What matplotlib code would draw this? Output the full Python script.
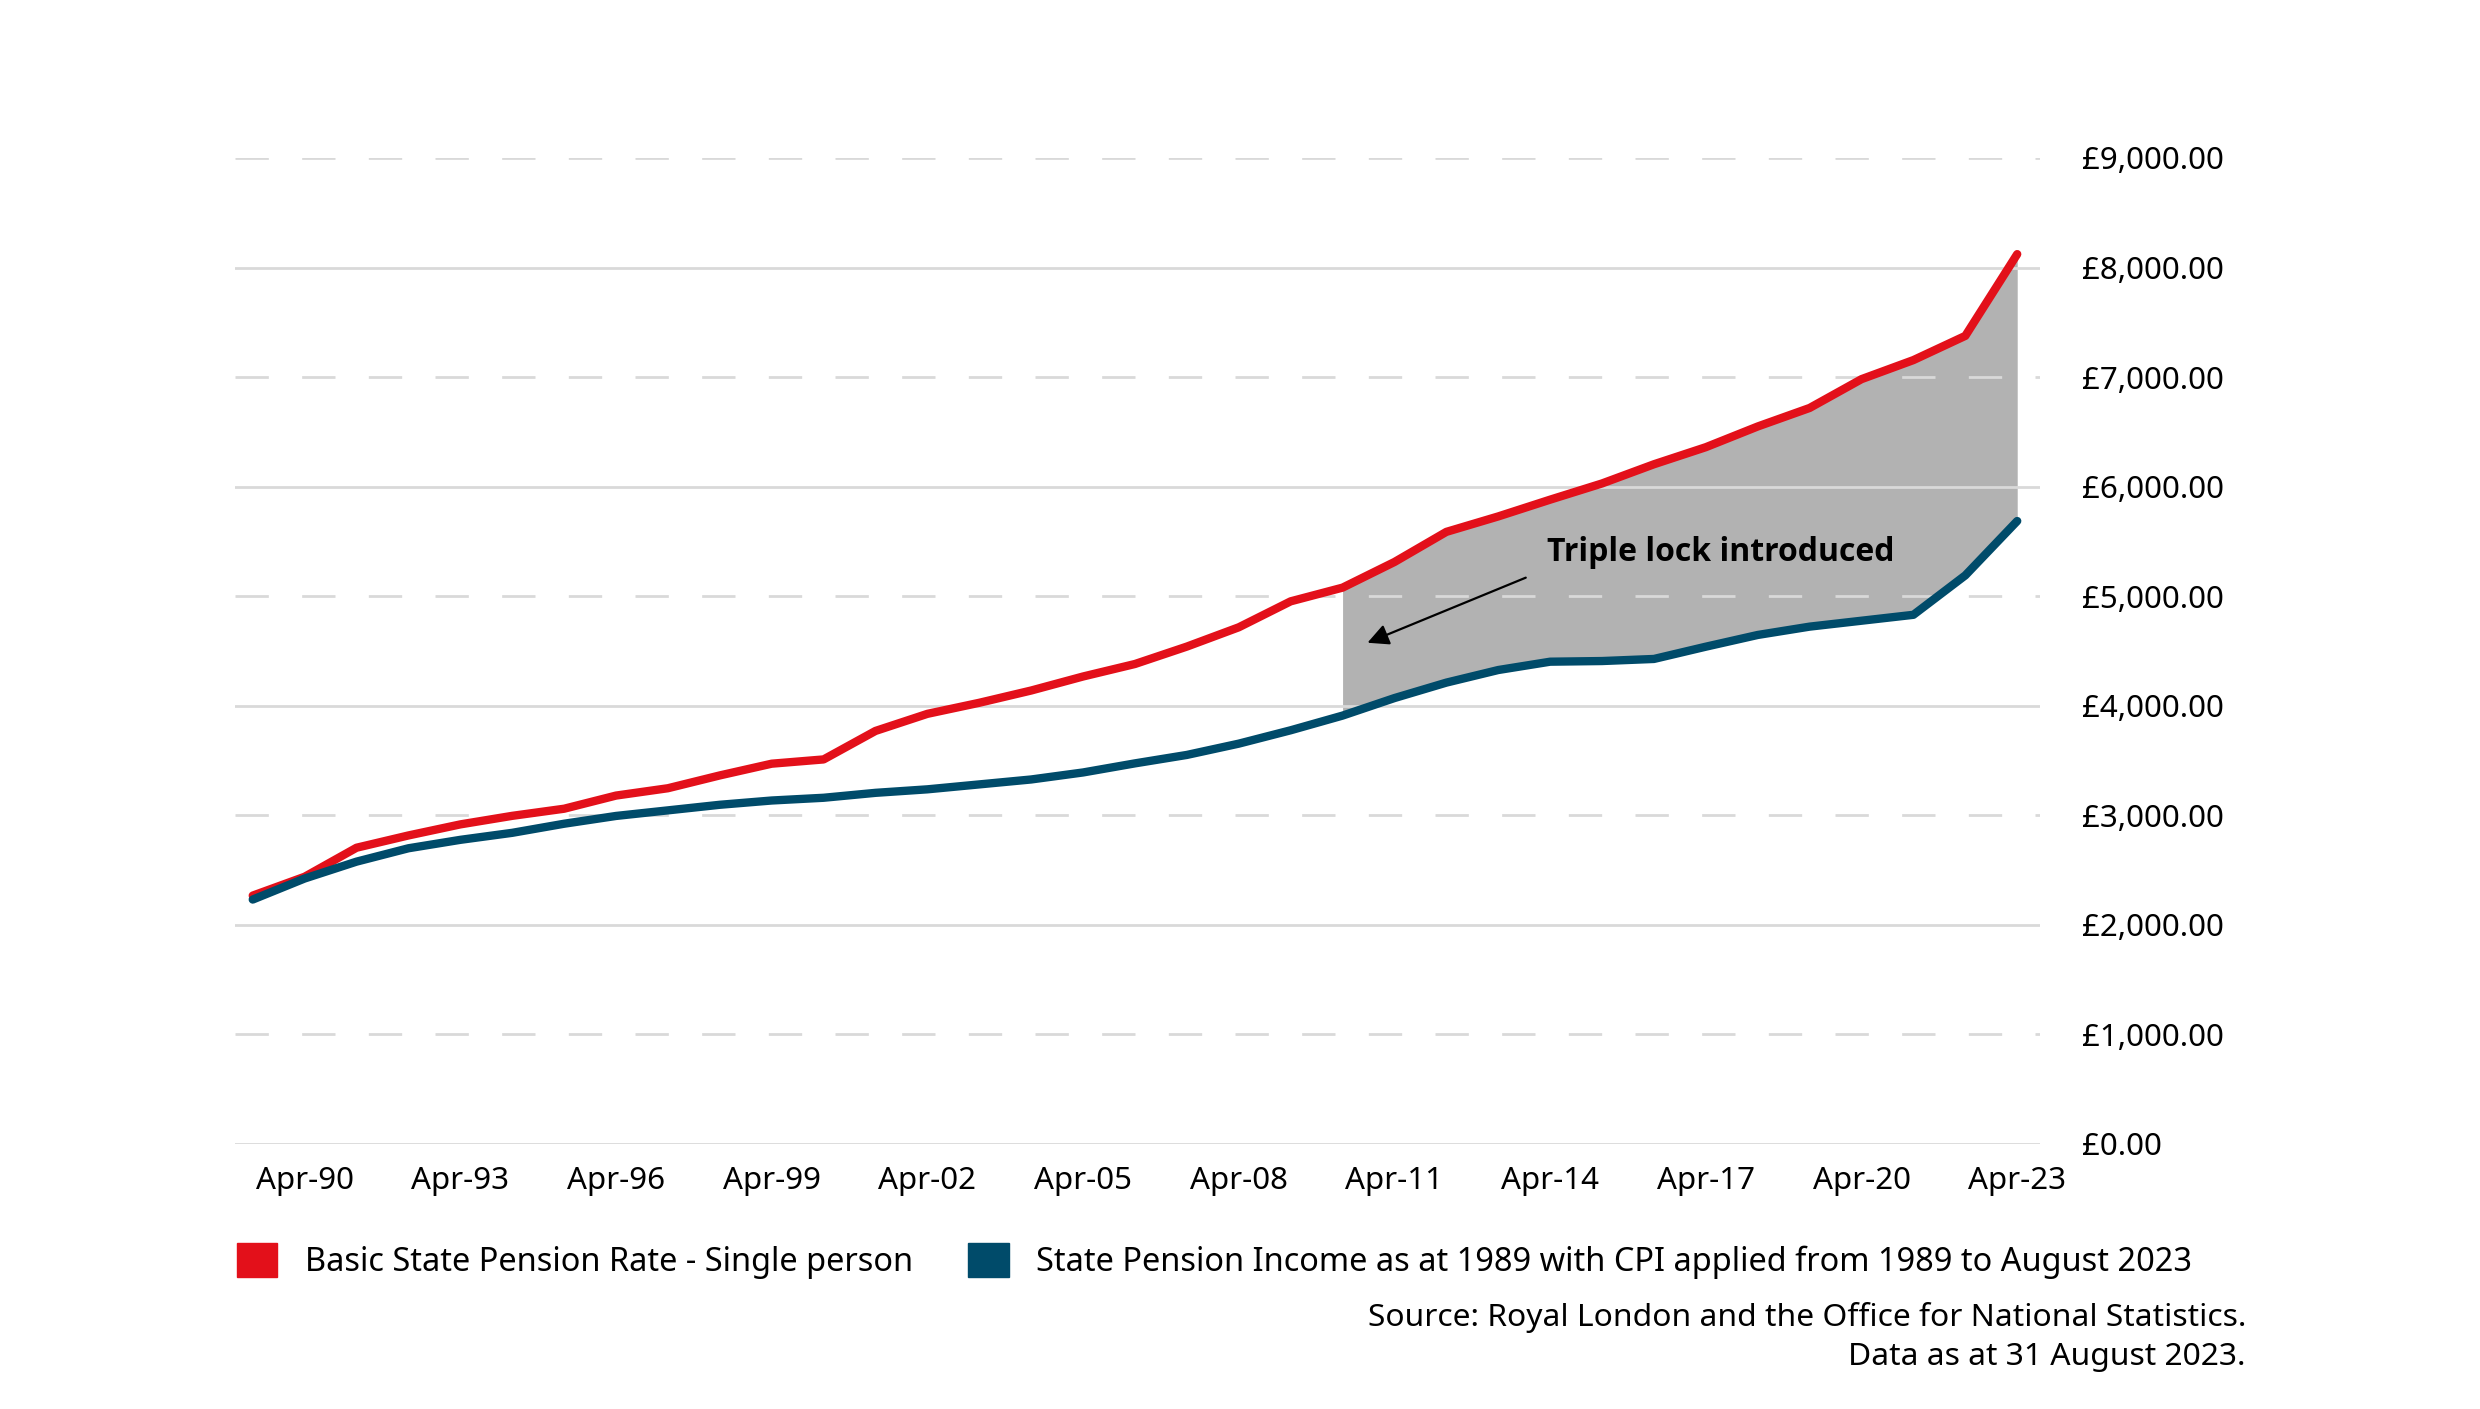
import matplotlib
matplotlib.use("Agg")
import matplotlib.pyplot as plt
from matplotlib.patches import Patch
from matplotlib.ticker import FuncFormatter

plt.rcParams['font.family'] = ['Noto Sans', 'DejaVu Sans']
plt.rcParams['lines.scale_dashes'] = False

# April of each year, 1989 - 2023
years = list(range(1989, 2024))
basic_pension = [2267, 2439, 2704, 2816, 2917, 2995, 3060, 3180, 3247, 3364,
                 3471, 3510, 3770, 3926, 4027, 4139, 4267, 4381, 4540, 4716,
                 4953, 5078, 5312, 5587, 5728, 5881, 6029, 6204, 6360, 6549,
                 6718, 6981, 7155, 7376, 8122]
cpi_income = [2231, 2423, 2577, 2699, 2776, 2840, 2923, 2994, 3045, 3096,
              3135, 3160, 3205, 3237, 3282, 3327, 3391, 3474, 3551, 3654,
              3776, 3910, 4070, 4211, 4326, 4402, 4408, 4427, 4539, 4646,
              4722, 4776, 4830, 5190, 5686]
tick_years = list(range(1990, 2024, 3))
tick_labels = ['Apr-%02d' % (y % 100) for y in tick_years]
triple_lock_year = 2010

RED = '#E3101A'
BLUE = '#004B6A'
GRID = '#D9D9D9'

fig = plt.figure(figsize=(24.8, 14.09), dpi=100)
ax = fig.add_axes([0.0948, 0.1881, 0.7278, 0.6998])

# shaded gap after triple lock
i0 = years.index(triple_lock_year)
ax.fill_between(years[i0:], cpi_income[i0:], basic_pension[i0:],
                color='#B2B2B2', lw=0, zorder=0.5)

# gridlines: solid on even thousands, dashed on odd
for v in range(0, 10000, 1000):
    if (v // 1000) % 2 == 0:
        ax.axhline(v, color=GRID, lw=2, zorder=1)
    else:
        ax.axhline(v, color=GRID, lw=2, dashes=(24, 24), zorder=1)

ax.plot(years, basic_pension, color=RED, lw=6, zorder=3,
        solid_capstyle='round', solid_joinstyle='round')
ax.plot(years, cpi_income, color=BLUE, lw=6, zorder=3,
        solid_capstyle='round', solid_joinstyle='round')

ax.set_xlim(1988.66, 2023.44)
ax.set_ylim(0, 9000)
for s in ax.spines.values():
    s.set_visible(False)

ax.set_xticks(tick_years)
ax.set_xticklabels(tick_labels)
ax.set_yticks(range(0, 10000, 1000))
ax.yaxis.tick_right()
ax.yaxis.set_major_formatter(FuncFormatter(lambda v, p: '£{:,.2f}'.format(v)))
ax.tick_params(axis='x', length=0, pad=16, labelsize=22.5)
ax.tick_params(axis='y', length=0, pad=30, labelsize=22.5)
for lab in ax.get_yticklabels():
    lab.set_horizontalalignment('left')

ax.annotate('', xy=(2010.48, 4575), xytext=(2013.53, 5169),
            arrowprops=dict(arrowstyle='-|>', color='black', lw=1.6,
                            mutation_scale=32, shrinkA=0, shrinkB=0),
            zorder=4)
ax.text(2017.28, 5321, 'Triple lock introduced', ha='center', va='baseline',
        fontsize=23, fontweight='bold', family=['Open Sans', 'DejaVu Sans'],
        zorder=4)

handles = [Patch(color=RED), Patch(color=BLUE)]
fig.legend(handles,
           ['Basic State Pension Rate - Single person',
            'State Pension Income as at 1989 with CPI applied from 1989 to August 2023'],
           loc='center left', bbox_to_anchor=(0.0956, 0.105), ncol=2,
           frameon=False, fontsize=23.4, handlelength=1.24, handleheight=1.24,
           handletextpad=0.85, columnspacing=1.7, borderpad=0, borderaxespad=0)

fig.text(0.9056, 0.051,
         'Source: Royal London and the Office for National Statistics.\nData as at 31 August 2023.',
         ha='right', va='center', multialignment='right', fontsize=22.9,
         linespacing=1.4)

fig.savefig('out.png', dpi=100)
